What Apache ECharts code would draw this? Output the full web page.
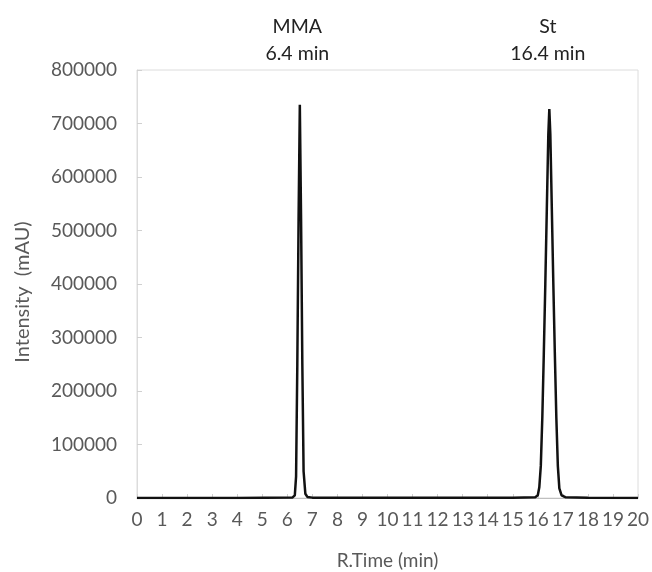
<!DOCTYPE html>
<html>
<head>
<meta charset="utf-8">
<script src="https://cdn.jsdelivr.net/npm/echarts@6/dist/echarts.min.js"></script>
<style>html,body{margin:0;padding:0;background:#fff}#c{width:652px;height:572px}</style>
</head>
<body>
<div id="c"></div>
<script>
// Retention time (min) and intensity (mAU)
const times = [0, 2, 4, 6.2, 6.30, 6.35, 6.40, 6.45, 6.50, 6.55, 6.60, 6.65, 6.72, 6.80, 7.0,
  9, 12, 15, 15.9, 16.0, 16.06, 16.12, 16.18, 16.24, 16.30, 16.36, 16.42, 16.46, 16.50, 16.56, 16.62, 16.68, 16.74, 16.80, 16.86, 16.95, 17.1, 18, 20];
const intensity = [0, 0, 0, 800, 5000, 40000, 250000, 520000, 735000, 520000, 250000, 50000, 8000, 2000, 700,
  300, 300, 600, 1500, 5000, 20000, 60000, 150000, 270000, 400000, 540000, 680000, 727000, 680000, 540000, 400000, 270000, 150000, 60000, 18000, 5000, 1500, 300, 200];
const xTicks = {min: 0, max: 20, step: 1};
const yTicks = {min: 0, max: 800000, step: 100000};
const peakLabels = [
  {name: 'MMA', time: '6.4 min', x: 6.4},
  {name: 'St', time: '16.4 min', x: 16.4}
];

const points = times.map((t, i) => [t, intensity[i]]);
const chart = echarts.init(document.getElementById('c'));
const font = 'Lato, "Open Sans", sans-serif';
chart.setOption({
  animation: false,
  grid: {left: 137, right: 14, top: 70, bottom: 74, show: true, borderColor: '#dcdcdc', borderWidth: 1, outerBoundsMode: 'none', containLabel: false},
  xAxis: {
    type: 'value', min: xTicks.min, max: xTicks.max, interval: xTicks.step,
    name: 'R.Time (min)', nameLocation: 'middle', nameGap: 53,
    nameTextStyle: {color: '#595959', fontSize: 19, fontFamily: font},
    axisLine: {show: true, lineStyle: {color: '#bfbfbf', width: 1}},
    axisTick: {show: true, inside: true, length: 4, lineStyle: {color: '#d0d0d0'}},
    axisLabel: {color: '#595959', fontSize: 19, fontFamily: font, margin: 12},
    splitLine: {show: false}
  },
  yAxis: {
    type: 'value', min: yTicks.min, max: yTicks.max, interval: yTicks.step,
    name: 'Intensity  (mAU)', nameLocation: 'middle', nameGap: 104,
    nameTextStyle: {color: '#595959', fontSize: 20, fontFamily: font, padding: [0, 16, 0, 0]},
    axisLine: {show: true, lineStyle: {color: '#dcdcdc', width: 1}},
    axisTick: {show: true, inside: true, length: 5, lineStyle: {color: '#d0d0d0'}},
    axisLabel: {color: '#595959', fontSize: 19, fontFamily: font, margin: 20, formatter: v => String(v)},
    splitLine: {show: false}
  },
  series: [{
    type: 'line', data: points, showSymbol: false, symbol: 'none',
    lineStyle: {color: '#111', width: 2.5}, z: 5
  }]
});
const gx = v => chart.convertToPixel({xAxisIndex: 0}, v);
chart.setOption({
  graphic: peakLabels.map(p => ({
    type: 'text', x: gx(p.x), y: 13,
    style: {text: p.name + '\n' + p.time, align: 'center', verticalAlign: 'top', fill: '#222', fontSize: 19.5, lineHeight: 27, fontFamily: font}
  }))
});
</script>
</body>
</html>
